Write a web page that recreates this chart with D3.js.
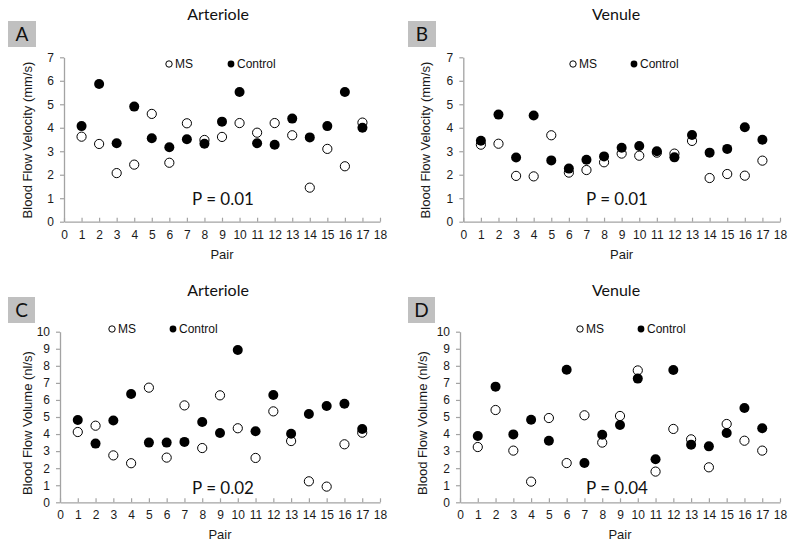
<!DOCTYPE html>
<html><head><meta charset="utf-8">
<script src="https://cdn.jsdelivr.net/npm/d3@7"></script>
<style>body{margin:0;background:#fff}svg{display:block}</style>
</head><body>
<svg id="chart" width="798" height="548"></svg>
<script>
// ---- data ----
const pairs = [1,2,3,4,5,6,7,8,9,10,11,12,13,14,15,16,17];
const xTickValues = [0,1,2,3,4,5,6,7,8,9,10,11,12,13,14,15,16,17,18];
const velocityTicks = [0,1,2,3,4,5,6,7];
const volumeTicks = [0,1,2,3,4,5,6,7,8,9,10];
const seriesNames = ["MS", "Control"];

const arterioleVelocityMS      = [3.62,3.31,2.07,2.43,4.59,2.51,4.19,3.48,3.61,4.20,3.79,4.20,3.68,1.45,3.10,2.36,4.22];
const arterioleVelocityControl = [4.07,5.86,3.34,4.90,3.55,3.17,3.51,3.32,4.26,5.52,3.34,3.28,4.39,3.59,4.07,5.52,4.00];
const venuleVelocityMS         = [3.28,3.32,1.95,1.93,3.68,2.09,2.20,2.53,2.90,2.81,2.94,2.90,3.44,1.86,2.03,1.96,2.60];
const venuleVelocityControl    = [3.45,4.56,2.73,4.52,2.61,2.26,2.64,2.78,3.15,3.22,3.00,2.74,3.69,2.94,3.10,4.02,3.49];
const arterioleVolumeMS        = [4.12,4.49,2.75,2.29,6.72,2.62,5.68,3.18,6.27,4.34,2.60,5.33,3.59,1.23,0.92,3.40,4.08];
const arterioleVolumeControl   = [4.82,3.44,4.79,6.35,3.50,3.50,3.54,4.71,4.06,8.93,4.16,6.29,4.02,5.18,5.64,5.78,4.30];
const venuleVolumeMS           = [3.24,5.41,3.03,1.21,4.94,2.30,5.10,3.50,5.06,7.73,1.80,4.30,3.69,2.05,4.59,3.61,3.03];
const venuleVolumeControl      = [3.89,6.78,3.98,4.84,3.61,7.77,2.30,3.96,4.53,7.25,2.52,7.75,3.38,3.28,4.06,5.53,4.34];

const panelLetters = ["A","B","C","D"];
const panelTitles = ["Arteriole","Venule","Arteriole","Venule"];
const pValues = ["P = 0.01","P = 0.01","P = 0.02","P = 0.04"];
const yLabels = ["Blood Flow Velocity (mm/s)","Blood Flow Velocity (mm/s)","Blood Flow Volume (nl/s)","Blood Flow Volume (nl/s)"];

// ---- layout ----
const panels = [
  {ms: arterioleVelocityMS, ctrl: arterioleVelocityControl, ticks: velocityTicks,
   x0:64, x1:380, yb:221.7, yt:57.3, titleX:218, titleY:19.5, box:[8,21,28,26],
   legY:64, legMS:169, legCtrl:231, pX:223, pY:205, ylX:32, ylY:140, xlY:259},
  {ms: venuleVelocityMS, ctrl: venuleVelocityControl, ticks: velocityTicks,
   x0:463.3, x1:780, yb:221.7, yt:57.3, titleX:616, titleY:19.5, box:[408,21,28,26],
   legY:64, legMS:573, legCtrl:634, pX:617, pY:204.5, ylX:430, ylY:140, xlY:259},
  {ms: arterioleVolumeMS, ctrl: arterioleVolumeControl, ticks: volumeTicks,
   x0:60, x1:380, yb:502.3, yt:331.7, titleX:218, titleY:296, box:[8,297,27,26],
   legY:329, legMS:112, legCtrl:173, pX:223, pY:494, ylX:32, ylY:423, xlY:539},
  {ms: venuleVolumeMS, ctrl: venuleVolumeControl, ticks: volumeTicks,
   x0:460, x1:780, yb:502.3, yt:331.7, titleX:616, titleY:296, box:[408,297,27,26],
   legY:329, legMS:580, legCtrl:641, pX:617, pY:494, ylX:427, ylY:423, xlY:539}
];

const svg = d3.select("#chart");
const axisColor = "#a3a3a3";
const arial = "Liberation Sans, Arial, sans-serif";
const humanist = "Lato, Open Sans, sans-serif";

panels.forEach((p, i) => {
  const g = svg.append("g");
  const x = d3.scaleLinear().domain([0, 18]).range([p.x0, p.x1]);
  const y = d3.scaleLinear().domain([0, p.ticks[p.ticks.length-1]]).range([p.yb, p.yt]);

  // letter box
  g.append("rect").attr("x", p.box[0]).attr("y", p.box[1]).attr("width", p.box[2]).attr("height", p.box[3])
    .attr("fill", "#c0c0c0");
  g.append("text").attr("x", p.box[0] + p.box[2]/2).attr("y", p.box[1] + p.box[3]/2 + 7)
    .attr("text-anchor", "middle").attr("font-family", humanist).attr("font-size", 19)
    .attr("fill", "#111").text(panelLetters[i]);

  // title
  g.append("text").attr("x", p.titleX).attr("y", p.titleY).attr("text-anchor", "middle")
    .attr("font-family", humanist).attr("font-size", 16).attr("fill", "#111").text(panelTitles[i]);

  // axes
  const yAxis = d3.axisLeft(y).tickValues(p.ticks).tickFormat(d3.format("d"))
    .tickSizeInner(4).tickSizeOuter(0).tickPadding(6);
  const ya = g.append("g").attr("transform", `translate(${p.x0},0)`).call(yAxis);
  const xAxis = d3.axisBottom(x).tickValues(xTickValues).tickFormat(d3.format("d"))
    .tickSizeInner(-4).tickSizeOuter(0).tickPadding(8.5);
  const xa = g.append("g").attr("transform", `translate(0,${p.yb})`).call(xAxis);
  [ya, xa].forEach(a => {
    a.attr("font-family", arial).attr("font-size", 12);
    a.select(".domain").attr("stroke", axisColor).attr("stroke-width", 1.3);
    a.selectAll(".tick line").attr("stroke", axisColor).attr("stroke-width", 1.2);
    a.selectAll(".tick text").attr("font-family", arial).attr("font-size", 12).attr("fill", "#1a1a1a");
  });

  // axis labels
  g.append("text").attr("transform", `translate(${p.ylX},${p.ylY}) rotate(-90)`)
    .attr("text-anchor", "middle").attr("font-family", arial).attr("font-size", 13)
    .attr("fill", "#1a1a1a").text(yLabels[i]);
  g.append("text").attr("x", (p.x0 + p.x1)/2).attr("y", p.xlY).attr("text-anchor", "middle")
    .attr("font-family", arial).attr("font-size", 13).attr("fill", "#1a1a1a").text("Pair");

  // legend
  g.append("circle").attr("cx", p.legMS).attr("cy", p.legY).attr("r", 3.2)
    .attr("fill", "#fff").attr("stroke", "#000").attr("stroke-width", 1);
  g.append("text").attr("x", p.legMS + 6).attr("y", p.legY + 4.3).attr("font-family", arial)
    .attr("font-size", 12).attr("fill", "#111").text(seriesNames[0]);
  g.append("circle").attr("cx", p.legCtrl).attr("cy", p.legY).attr("r", 3.4).attr("fill", "#000");
  g.append("text").attr("x", p.legCtrl + 6).attr("y", p.legY + 4.3).attr("font-family", arial)
    .attr("font-size", 12).attr("fill", "#111").text(seriesNames[1]);

  // points
  g.append("g").selectAll("circle").data(p.ms).join("circle")
    .attr("cx", (d, j) => x(pairs[j])).attr("cy", d => y(d)).attr("r", 4.6)
    .attr("fill", "#fff").attr("stroke", "#000").attr("stroke-width", 1);
  g.append("g").selectAll("circle").data(p.ctrl).join("circle")
    .attr("cx", (d, j) => x(pairs[j])).attr("cy", d => y(d)).attr("r", 5)
    .attr("fill", "#000");

  // p-value
  g.append("text").attr("x", p.pX).attr("y", p.pY).attr("text-anchor", "middle")
    .attr("font-family", humanist).attr("font-size", 17).attr("fill", "#111").text(pValues[i]);
});
</script>
</body></html>
